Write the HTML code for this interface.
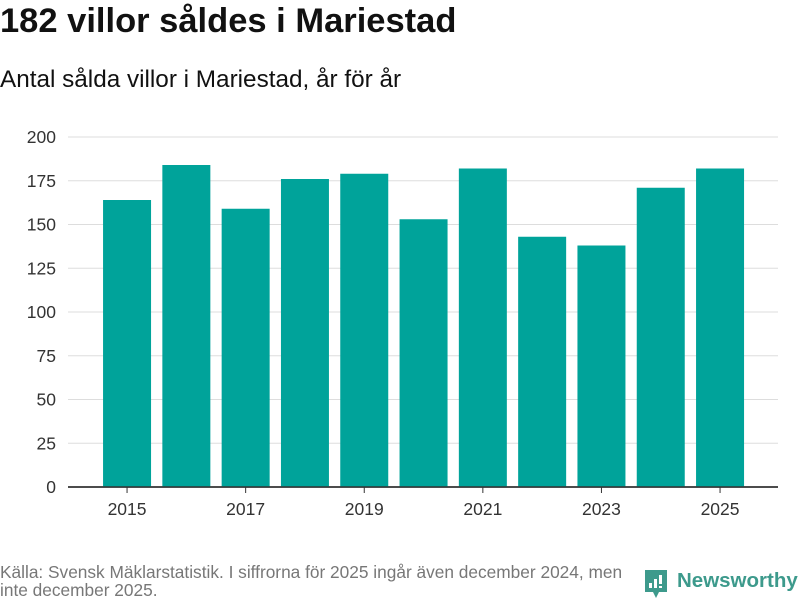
<!DOCTYPE html>
<html><head><meta charset="utf-8"><style>
body{margin:0;width:800px;height:600px;background:#fff;font-family:"Liberation Sans",sans-serif;overflow:hidden;position:relative}
.t{position:absolute;left:0;top:2px;font-size:34.5px;font-weight:bold;color:#111}
.s{position:absolute;left:0;top:66px;font-size:24.3px;color:#111}
.f{position:absolute;left:0;top:563px;font-size:17.3px;color:#777;line-height:18px;width:645px}
</style></head><body>
<div class="t">182 villor såldes i Mariestad</div>
<div class="s">Antal sålda villor i Mariestad, år för år</div>
<svg id="c" width="800" height="600" style="position:absolute;left:0;top:0"></svg>
<div class="f">Källa: Svensk Mäklarstatistik. I siffrorna för 2025 ingår även december 2024, men inte december 2025.</div>
<svg style="position:absolute;left:645px;top:570px" width="24" height="30">
<path d="M0 0H22V22H14L11 28L8 22H0Z" fill="#3d9a8c"/>
<rect x="4" y="13" width="3" height="5" fill="#fff"/><rect x="9" y="9" width="3" height="9" fill="#fff"/><rect x="14" y="5" width="3" height="9" fill="#fff"/><rect x="14" y="16" width="3" height="2" fill="#fff"/>
</svg>
<div style="position:absolute;left:677px;top:569px;font-size:20.5px;font-weight:bold;color:#3d9a8c">Newsworthy</div>
<script>
const years=[2015,2016,2017,2018,2019,2020,2021,2022,2023,2024,2025];
const values=[164,184,159,176,179,153,182,143,138,171,182];
const yTicks=[0,25,50,75,100,125,150,175,200];
const xLabels=[2015,2017,2019,2021,2023,2025];
const svg=document.getElementById('c'),NS='http://www.w3.org/2000/svg';
const y=v=>487-v*1.75;
const step=59.3,x0=97.4;
const xc=i=>x0+step*i+step/2;
function mk(t,a){const e=document.createElementNS(NS,t);for(const k in a)e.setAttribute(k,a[k]);svg.appendChild(e);return e;}
yTicks.forEach(v=>{
 const l=mk('line',{x1:68,x2:778,y1:y(v),y2:y(v),stroke:v?'#ddd':'#333','stroke-width':v?1:1.5});
 
 
 const t=mk('text',{x:56,y:y(v)+6,'text-anchor':'end','font-size':17.5,fill:'#333','font-family':'Liberation Sans'});
 t.textContent=v;
 
 
});
values.forEach((v,i)=>{
 const r=mk('rect',{x:xc(i)-24,width:48,y:y(v),height:v*1.75,fill:'#00a39a'});
 
 
});
mk('line',{x1:68,x2:778,y1:487,y2:487,stroke:'#333','stroke-width':1.5});
xLabels.forEach(yr=>{
 const i=years.indexOf(yr);
 mk('line',{x1:xc(i),x2:xc(i),y1:487,y2:493,stroke:'#333'});
 const t=mk('text',{x:xc(i),y:515,'text-anchor':'middle','font-size':17.5,fill:'#333','font-family':'Liberation Sans'});
 t.textContent=yr;
 
 
});
</script>
</body></html>
